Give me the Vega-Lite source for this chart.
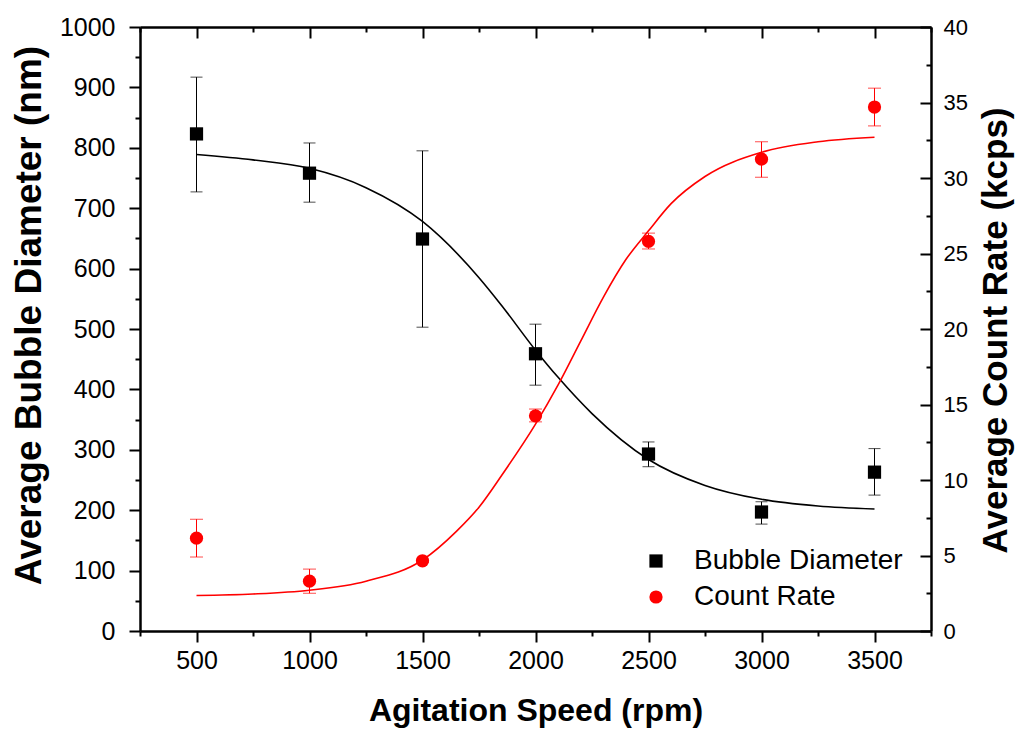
{
  "$schema": "https://vega.github.io/schema/vega-lite/v6.json",
  "width": 791,
  "height": 604,
  "autosize": "none",
  "padding": {"left": 140, "top": 27, "right": 86, "bottom": 99},
  "background": "white",
  "config": {
    "view": {"stroke": null},
    "axis": {
      "grid": false,
      "domainColor": "black",
      "domainWidth": 2.5,
      "tickColor": "black",
      "tickWidth": 2,
      "labelColor": "black",
      "titleColor": "black",
      "labelFont": "Liberation Sans",
      "titleFont": "Liberation Sans",
      "titleFontWeight": "bold",
      "labelOverlap": false,
      "labelBound": false,
      "labelFlush": false
    }
  },
  "datasets": {
    "bubble": [
      {"rpm": 500, "d": 823, "lo": 727, "hi": 917, "series": "Bubble Diameter"},
      {"rpm": 1000, "d": 758, "lo": 710, "hi": 808, "series": "Bubble Diameter"},
      {"rpm": 1500, "d": 649, "lo": 503, "hi": 795, "series": "Bubble Diameter"},
      {"rpm": 2000, "d": 459, "lo": 407, "hi": 508, "series": "Bubble Diameter"},
      {"rpm": 2500, "d": 293, "lo": 272, "hi": 313, "series": "Bubble Diameter"},
      {"rpm": 3000, "d": 197, "lo": 177, "hi": 214, "series": "Bubble Diameter"},
      {"rpm": 3500, "d": 263, "lo": 225, "hi": 302, "series": "Bubble Diameter"}
    ],
    "count": [
      {"rpm": 500, "c": 6.15, "lo": 4.9, "hi": 7.4, "series": "Count Rate"},
      {"rpm": 1000, "c": 3.3, "lo": 2.5, "hi": 4.1, "series": "Count Rate"},
      {"rpm": 1500, "c": 4.65, "lo": 4.55, "hi": 4.75, "series": "Count Rate"},
      {"rpm": 2000, "c": 14.25, "lo": 13.85, "hi": 14.7, "series": "Count Rate"},
      {"rpm": 2500, "c": 25.8, "lo": 25.3, "hi": 26.35, "series": "Count Rate"},
      {"rpm": 3000, "c": 31.25, "lo": 30.05, "hi": 32.4, "series": "Count Rate"},
      {"rpm": 3500, "c": 34.7, "lo": 33.45, "hi": 35.95, "series": "Count Rate"}
    ],
    "bfit": [
      {"rpm": 500, "d": 789}, {"rpm": 750, "d": 780}, {"rpm": 1000, "d": 766},
      {"rpm": 1250, "d": 734}, {"rpm": 1500, "d": 678}, {"rpm": 1750, "d": 585},
      {"rpm": 1850, "d": 539}, {"rpm": 2000, "d": 465}, {"rpm": 2100, "d": 420},
      {"rpm": 2250, "d": 360}, {"rpm": 2500, "d": 284}, {"rpm": 2750, "d": 241},
      {"rpm": 3000, "d": 218}, {"rpm": 3250, "d": 207}, {"rpm": 3500, "d": 202}
    ],
    "cfit": [
      {"rpm": 500, "c": 2.35}, {"rpm": 750, "c": 2.45}, {"rpm": 1000, "c": 2.7},
      {"rpm": 1250, "c": 3.3}, {"rpm": 1500, "c": 4.7}, {"rpm": 1650, "c": 6.6},
      {"rpm": 1750, "c": 8.2}, {"rpm": 1850, "c": 10.3}, {"rpm": 2000, "c": 13.7},
      {"rpm": 2100, "c": 16.3}, {"rpm": 2200, "c": 19.2}, {"rpm": 2300, "c": 22.1},
      {"rpm": 2400, "c": 24.6}, {"rpm": 2500, "c": 26.5}, {"rpm": 2600, "c": 28.3},
      {"rpm": 2750, "c": 30.1}, {"rpm": 3000, "c": 31.7}, {"rpm": 3250, "c": 32.4},
      {"rpm": 3500, "c": 32.7}
    ]
  },
  "layer": [
    {
      "layer": [
        {
          "data": {"name": "bubble"},
          "mark": {"type": "rule", "color": "black", "strokeWidth": 1},
          "encoding": {
            "x": {
              "field": "rpm", "type": "quantitative",
              "scale": {"domain": [250, 3750], "nice": false, "zero": false},
              "axis": {
                "orient": "bottom",
                "values": [500, 1000, 1500, 2000, 2500, 3000, 3500],
                "format": "d",
                "labelFontSize": 25,
                "labelPadding": 6,
                "tickSize": 11,
                "title": "Agitation Speed (rpm)",
                "titleFontSize": 32,
                "titleY": 89,
                "titleBaseline": "alphabetic"
              }
            },
            "y": {
              "field": "lo", "type": "quantitative",
              "scale": {"domain": [0, 1000], "nice": false},
              "axis": {
                "orient": "left",
                "values": [0, 100, 200, 300, 400, 500, 600, 700, 800, 900, 1000],
                "format": "d",
                "labelFontSize": 25,
                "labelPadding": 14,
                "tickSize": 11,
                "title": "Average Bubble Diameter (nm)",
                "titleFontSize": 37,
                "titleAngle": 270,
                "titleX": -111,
                "titleY": 288,
                "titleBaseline": "middle"
              }
            },
            "y2": {"field": "hi"}
          }
        },
        {
          "data": {"name": "bubble"},
          "mark": {"type": "tick", "orient": "horizontal", "size": 12, "thickness": 1, "color": "black"},
          "encoding": {
            "x": {
              "field": "rpm", "type": "quantitative",
              "scale": {"domain": [250, 3750], "nice": false, "zero": false},
              "axis": {"orient": "bottom", "values": [250, 750, 1250, 1750, 2250, 2750, 3250, 3750], "labels": false, "domain": false, "tickSize": 5, "title": null}
            },
            "y": {
              "field": "lo", "type": "quantitative",
              "scale": {"domain": [0, 1000], "nice": false},
              "axis": {"orient": "left", "values": [50, 150, 250, 350, 450, 550, 650, 750, 850, 950], "labels": false, "domain": false, "tickSize": 5, "title": null}
            }
          }
        },
        {
          "data": {"name": "bubble"},
          "mark": {"type": "tick", "orient": "horizontal", "size": 12, "thickness": 1, "color": "black"},
          "encoding": {
            "x": {"field": "rpm", "type": "quantitative", "scale": {"domain": [250, 3750], "nice": false, "zero": false}, "axis": null},
            "y": {"field": "hi", "type": "quantitative", "scale": {"domain": [0, 1000], "nice": false}, "axis": null}
          }
        },
        {
          "data": {"name": "bfit"},
          "mark": {"type": "line", "color": "black", "strokeWidth": 1.6, "interpolate": "monotone"},
          "encoding": {
            "x": {"field": "rpm", "type": "quantitative", "scale": {"domain": [250, 3750], "nice": false, "zero": false}, "axis": null},
            "y": {"field": "d", "type": "quantitative", "scale": {"domain": [0, 1000], "nice": false}, "axis": null}
          }
        },
        {
          "data": {"name": "bubble"},
          "mark": {"type": "point", "filled": true, "size": 175, "opacity": 1},
          "encoding": {
            "x": {"field": "rpm", "type": "quantitative", "scale": {"domain": [250, 3750], "nice": false, "zero": false}, "axis": null},
            "y": {"field": "d", "type": "quantitative", "scale": {"domain": [0, 1000], "nice": false}, "axis": null},
            "color": {
              "field": "series", "type": "nominal",
              "scale": {"domain": ["Bubble Diameter", "Count Rate"], "range": ["#000000", "#ff0000"]},
              "legend": {"title": null, "orient": "none", "legendX": 502, "legendY": 520, "labelFont": "Liberation Sans", "labelFontSize": 28, "labelColor": "black", "labelLimit": 500, "symbolSize": 175, "labelOffset": 24, "rowPadding": 8, "padding": 0, "symbolStrokeWidth": 0}
            },
            "shape": {
              "field": "series", "type": "nominal",
              "scale": {"domain": ["Bubble Diameter", "Count Rate"], "range": ["square", "circle"]},
              "legend": {"title": null, "orient": "none", "legendX": 502, "legendY": 520, "labelFont": "Liberation Sans", "labelFontSize": 28, "labelColor": "black", "labelLimit": 500, "symbolSize": 175, "labelOffset": 24, "rowPadding": 8, "padding": 0, "symbolStrokeWidth": 0}
            }
          }
        }
      ],
      "resolve": {"axis": {"x": "independent", "y": "independent"}}
    },
    {
      "layer": [
        {
          "data": {"name": "count"},
          "mark": {"type": "rule", "color": "#ff0000", "strokeWidth": 1},
          "encoding": {
            "x": {
              "field": "rpm", "type": "quantitative",
              "scale": {"domain": [250, 3750], "nice": false, "zero": false},
              "axis": {"orient": "top", "values": [500, 1000, 1500, 2000, 2500, 3000, 3500], "labels": false, "title": null, "tickSize": -11}
            },
            "y": {
              "field": "lo", "type": "quantitative",
              "scale": {"domain": [0, 40], "nice": false},
              "axis": {
                "orient": "right",
                "values": [0, 5, 10, 15, 20, 25, 30, 35, 40],
                "format": "d",
                "labelFontSize": 22,
                "labelPadding": 23,
                "tickSize": -11,
                "title": "Average Count Rate (kcps)",
                "titleFontSize": 35,
                "titleAngle": 270,
                "titleX": 64,
                "titleY": 303,
                "titleBaseline": "middle"
              }
            },
            "y2": {"field": "hi"}
          }
        },
        {
          "data": {"name": "count"},
          "mark": {"type": "tick", "orient": "horizontal", "size": 13, "thickness": 1, "color": "#ff0000"},
          "encoding": {
            "x": {
              "field": "rpm", "type": "quantitative",
              "scale": {"domain": [250, 3750], "nice": false, "zero": false},
              "axis": {"orient": "top", "values": [250, 750, 1250, 1750, 2250, 2750, 3250, 3750], "labels": false, "domain": false, "tickSize": -5, "title": null}
            },
            "y": {
              "field": "lo", "type": "quantitative",
              "scale": {"domain": [0, 40], "nice": false},
              "axis": {"orient": "right", "values": [2.5, 7.5, 12.5, 17.5, 22.5, 27.5, 32.5, 37.5], "labels": false, "domain": false, "tickSize": -5, "title": null}
            }
          }
        },
        {
          "data": {"name": "count"},
          "mark": {"type": "tick", "orient": "horizontal", "size": 13, "thickness": 1, "color": "#ff0000"},
          "encoding": {
            "x": {"field": "rpm", "type": "quantitative", "scale": {"domain": [250, 3750], "nice": false, "zero": false}, "axis": null},
            "y": {"field": "hi", "type": "quantitative", "scale": {"domain": [0, 40], "nice": false}, "axis": null}
          }
        },
        {
          "data": {"name": "cfit"},
          "mark": {"type": "line", "color": "#ff0000", "strokeWidth": 1.6, "interpolate": "monotone"},
          "encoding": {
            "x": {"field": "rpm", "type": "quantitative", "scale": {"domain": [250, 3750], "nice": false, "zero": false}, "axis": null},
            "y": {"field": "c", "type": "quantitative", "scale": {"domain": [0, 40], "nice": false}, "axis": null}
          }
        },
        {
          "data": {"name": "count"},
          "mark": {"type": "point", "filled": true, "size": 175, "opacity": 1},
          "encoding": {
            "x": {"field": "rpm", "type": "quantitative", "scale": {"domain": [250, 3750], "nice": false, "zero": false}, "axis": null},
            "y": {"field": "c", "type": "quantitative", "scale": {"domain": [0, 40], "nice": false}, "axis": null},
            "color": {
              "field": "series", "type": "nominal",
              "scale": {"domain": ["Bubble Diameter", "Count Rate"], "range": ["#000000", "#ff0000"]},
              "legend": {"title": null, "orient": "none", "legendX": 502, "legendY": 520, "labelFont": "Liberation Sans", "labelFontSize": 28, "labelColor": "black", "labelLimit": 500, "symbolSize": 175, "labelOffset": 24, "rowPadding": 8, "padding": 0, "symbolStrokeWidth": 0}
            },
            "shape": {
              "field": "series", "type": "nominal",
              "scale": {"domain": ["Bubble Diameter", "Count Rate"], "range": ["square", "circle"]},
              "legend": {"title": null, "orient": "none", "legendX": 502, "legendY": 520, "labelFont": "Liberation Sans", "labelFontSize": 28, "labelColor": "black", "labelLimit": 500, "symbolSize": 175, "labelOffset": 24, "rowPadding": 8, "padding": 0, "symbolStrokeWidth": 0}
            }
          }
        }
      ],
      "resolve": {"axis": {"x": "independent", "y": "independent"}}
    }
  ],
  "resolve": {"scale": {"y": "independent"}, "axis": {"x": "independent"}}
}
